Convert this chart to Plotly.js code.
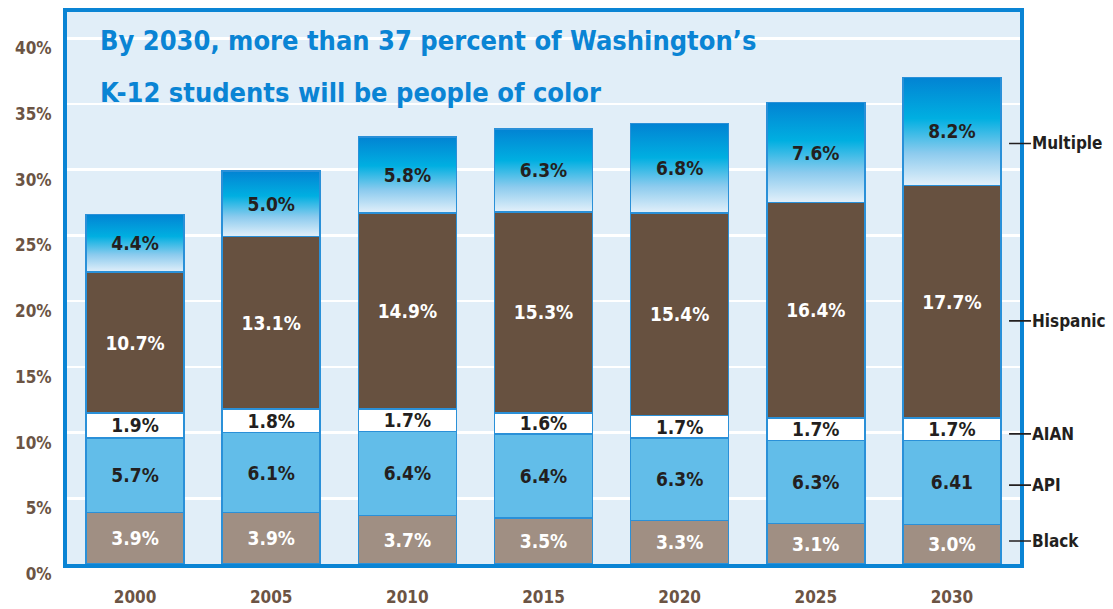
<!DOCTYPE html>
<html><head><meta charset="utf-8">
<script src="https://cdn.plot.ly/plotly-3.0.1.min.js"></script>
<style>html,body{margin:0;padding:0;background:#fff}</style>
</head><body><div id="chart" style="width:1113px;height:609px"></div>
<script>
// ---- data ----
const years    = ['2000','2005','2010','2015','2020','2025','2030'];
const black    = [3.9, 3.9, 3.7, 3.5, 3.3, 3.1, 3.0];
const api      = [5.7, 6.1, 6.4, 6.4, 6.3, 6.3, 6.41];
const aian     = [1.9, 1.8, 1.7, 1.6, 1.7, 1.7, 1.7];
const hispanic = [10.7, 13.1, 14.9, 15.3, 15.4, 16.4, 17.7];
const multiple = [4.4, 5.0, 5.8, 6.3, 6.8, 7.6, 8.2];
const groupNames = ['Black', 'API', 'AIAN', 'Hispanic', 'Multiple'];
const yTickVals = [0, 5, 10, 15, 20, 25, 30, 35, 40];
// right-hand label heights (in %)
const sideLabelY = [1.75, 6.0, 9.9, 18.5, 32.0];

// ---- styles ----
const FONT = '"DejaVu Sans Condensed", "DejaVu Sans", sans-serif';
const BLUE = '#0a84d4';
const fills = ['#a08f83', '#62bde9', '#ffffff', '#675140', '#00aee2'];
const labelColors = ['#ffffff', '#231f20', '#231f20', '#ffffff', '#231f20'];
const series = [black, api, aian, hispanic, multiple];

function fmt(v) {
  return (Math.abs(v * 10 - Math.round(v * 10)) < 1e-9) ? v.toFixed(1) + '%' : String(v);
}

const traces = series.map((vals, i) => ({
  type: 'bar',
  name: groupNames[i],
  x: years,
  y: vals,
  text: vals.map(fmt),
  textposition: 'inside',
  insidetextanchor: 'middle',
  textangle: 0,
  constraintext: 'none',
  textfont: {family: FONT, size: 19, color: labelColors[i], weight: 'bold'},
  marker: {color: fills[i], line: {color: '#2a90d8', width: 1.5}},
  width: 0.72,
  hoverinfo: 'skip'
}));

const annotations = groupNames.map((n, i) => ({
  xref: 'paper', yref: 'y',
  x: 0.9885, y: sideLabelY[i],
  ax: 22, ay: 0,
  xanchor: 'left', yanchor: 'middle',
  text: n,
  showarrow: true, arrowhead: 0, arrowwidth: 1.6, arrowcolor: '#231f20',
  standoff: 0, startstandoff: 0, borderpad: 0,
  font: {family: FONT, size: 17, color: '#231f20', weight: 'bold'}
}));

const layout = {
  width: 1113, height: 609,
  margin: {l: 67, r: 93, t: 12, b: 45},
  paper_bgcolor: '#ffffff',
  plot_bgcolor: '#e1eef8',
  barmode: 'stack',
  showlegend: false,
  uniformtext: {mode: 'show', minsize: 19},
  title: {
    text: '<span style="font-size:27px">By 2030, more than 37 percent of Washington\u2019s</span><br><span style="font-size:27px">K-12 students will be people of color</span>',
    font: {family: FONT, size: 40, color: BLUE, weight: 'bold'},
    x: 100 / 1113, xanchor: 'left', xref: 'container',
    y: 1 - 50 / 609, yanchor: 'top', yref: 'container'
  },
  xaxis: {
    type: 'category',
    range: [-0.5, 6.5],
    showgrid: false, zeroline: false,
    showline: true, mirror: true, linecolor: BLUE, linewidth: 4,
    ticks: '', ticklabelstandoff: 15,
    tickfont: {family: FONT, size: 17, color: '#6b5444', weight: 'bold'}
  },
  yaxis: {
    range: [0, 42],
    tickvals: yTickVals,
    ticktext: yTickVals.map(v => v + '%'),
    showgrid: true, gridcolor: '#ffffff', gridwidth: 2.5,
    zeroline: false,
    showline: true, mirror: true, linecolor: BLUE, linewidth: 4,
    ticks: '', ticklabelstandoff: 8, ticklabelshift: 10,
    tickfont: {family: FONT, size: 17, color: '#6b5444', weight: 'bold'}
  },
  annotations: annotations
};

Plotly.newPlot('chart', traces, layout, {staticPlot: true}).then(gd => {
  // vertical gradient for the "Multiple" segments
  const svg = gd.querySelector('svg.main-svg');
  const ns = 'http://www.w3.org/2000/svg';
  let defs = svg.querySelector('defs');
  if (!defs) { defs = document.createElementNS(ns, 'defs'); svg.insertBefore(defs, svg.firstChild); }
  const g = document.createElementNS(ns, 'linearGradient');
  g.setAttribute('id', 'multGrad');
  g.setAttribute('x1', '0'); g.setAttribute('y1', '0');
  g.setAttribute('x2', '0'); g.setAttribute('y2', '1');
  [['0', '#0283d3'], ['0.38', '#00afe1'], ['0.7', '#8ccbee'], ['1', '#e3f0fa']].forEach(([o, c]) => {
    const s = document.createElementNS(ns, 'stop');
    s.setAttribute('offset', o); s.setAttribute('stop-color', c);
    g.appendChild(s);
  });
  defs.appendChild(g);
  const groups = gd.querySelectorAll('.barlayer .trace.bars');
  const last = groups[groups.length - 1];
  last.querySelectorAll('.point path').forEach(p => { p.style.fill = 'url(#multGrad)'; });
});
</script>
</body></html>
